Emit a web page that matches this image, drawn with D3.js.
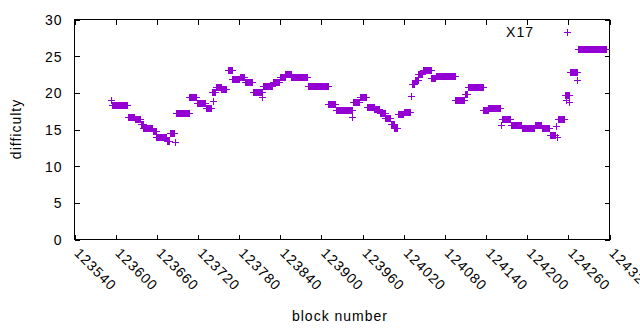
<!DOCTYPE html>
<html><head><meta charset="utf-8">
<script src="https://cdn.jsdelivr.net/npm/d3@7"></script>
<style>
html,body{margin:0;padding:0;background:#fff;}
svg{display:block;}
text{font-family:"Liberation Sans",Arial,sans-serif;font-size:14px;letter-spacing:1px;fill:#000;}
</style></head>
<body><svg id="c" width="640" height="330"></svg>
<script>
// ---- data ----
const xTicks = [123540,123600,123660,123720,123780,123840,123900,123960,124020,124080,124140,124200,124260,124320];
const yTicks = [0,5,10,15,20,25,30];
const seriesName = "X17";
// runs of consecutive blocks sharing the same difficulty
const runStart = [123595,123618,123629,123637,123641,123655,123660,123675,123680,123689,123708,123719,123733,123741,123747,123755,123765,123771,123782,123789,123801,123815,123830,123840,123848,123857,123881,123911,123922,123947,123957,123967,123978,123986,123994,124002,124007,124012,124021,124033,124037,124042,124049,124061,124068,124096,124110,124114,124137,124144,124164,124177,124193,124212,124222,124234,124246,124256,124263,124275];
const runEnd   = [123617,123628,123636,123640,123654,123659,123674,123679,123686,123707,123718,123731,123740,123746,123754,123762,123770,123781,123788,123800,123814,123829,123839,123847,123856,123880,123910,123921,123946,123956,123966,123977,123985,123993,124001,124006,124011,124020,124030,124036,124041,124048,124060,124067,124095,124109,124113,124136,124143,124161,124176,124192,124210,124221,124233,124241,124255,124262,124274,124316];
const runValue = [18.3,16.7,16.4,15.7,15.2,14.7,13.95,13.4,14.4,17.25,19.4,18.6,17.8,20.0,20.7,20.45,23.05,21.8,22.05,21.45,20.1,20.8,21.4,22.1,22.45,22.1,20.8,18.4,17.6,18.7,19.3,17.95,17.7,17.2,16.45,15.7,15.1,17.0,17.3,21.1,21.7,22.55,23.0,21.9,22.2,19.0,19.8,20.7,17.55,17.8,16.3,15.6,15.1,15.55,15.1,14.2,16.3,19.6,22.75,25.9];
// isolated blocks
const singleBlock = [123594,123687,123743,123814,123945,124032,124163,124244,124243,124258,124262,124274];
const singleValue = [18.95,13.2,18.8,19.4,16.7,19.5,15.5,13.95,15.4,18.95,18.7,21.7];

// ---- build points ----
const points = [];
runStart.forEach((s,i)=>{ for(let b=s;b<=runEnd[i];b++) points.push([b,runValue[i]]); });
singleBlock.forEach((b,i)=>points.push([b,singleValue[i]]));

// ---- layout ----
const L=74,R=609,T=19,B=239;
const svg=d3.select("#c");
const x=d3.scaleLinear().domain([123540,124320]).range([L,R]);
const y=d3.scaleLinear().domain([0,30]).range([B,T]);
const color="#9400d3";

// axes (ticks inward, mirrored)
const gL=svg.append("g").attr("transform",`translate(${L+0.5},0.5)`)
  .call(d3.axisLeft(y).tickValues(yTicks).tickSize(-5).tickPadding(12));
const gR=svg.append("g").attr("transform",`translate(${R+0.5},0.5)`)
  .call(d3.axisRight(y).tickValues(yTicks).tickSize(-5).tickFormat(""));
const gB=svg.append("g").attr("transform",`translate(0.5,${B+0.5})`)
  .call(d3.axisBottom(x).tickValues(xTicks).tickSize(-5).tickFormat(d3.format("d")));
const gT=svg.append("g").attr("transform",`translate(0.5,${T+0.5})`)
  .call(d3.axisTop(x).tickValues(xTicks).tickSize(-5).tickFormat(""));
[gL,gR,gB,gT].forEach(g=>{
  g.select(".domain").remove();
  g.selectAll("line").attr("stroke","#000").attr("shape-rendering","crispEdges");
  g.selectAll("text").attr("font-family",null).attr("font-size",null);
  g.attr("font-family",null).attr("font-size",null);
});
gL.selectAll("text").attr("dy","0.36em");
gB.selectAll("text")
  .attr("y",0).attr("x",0).attr("dy","0.36em")
  .attr("text-anchor","start")
  .attr("transform","translate(2,11) rotate(45)");

// frame
svg.append("rect").attr("x",L+0.5).attr("y",T+0.5).attr("width",R-L).attr("height",B-T)
  .attr("fill","none").attr("stroke","#000").attr("shape-rendering","crispEdges");

// points
const plus="M-3.5,0H3.5M0,-3.5V3.5";
svg.append("g").selectAll("path").data(points).join("path")
  .attr("d",plus)
  .attr("transform",d=>`translate(${Math.round(x(d[0]))+0.5},${Math.round(y(d[1]))+0.5})`)
  .attr("stroke",color).attr("stroke-width",1).attr("fill","none")
  .attr("shape-rendering","crispEdges");

// key
svg.append("text").attr("x",534).attr("y",36.5).attr("text-anchor","end").text(seriesName);
svg.append("path").attr("d",plus).attr("transform","translate(567.5,32.5)")
  .attr("stroke",color).attr("fill","none").attr("shape-rendering","crispEdges");

// axis titles
svg.append("text").attr("transform","translate(21,129) rotate(-90)")
  .attr("text-anchor","middle").text("difficulty");
svg.append("text").attr("x",340).attr("y",321).attr("text-anchor","middle").text("block number");
</script></body></html>
